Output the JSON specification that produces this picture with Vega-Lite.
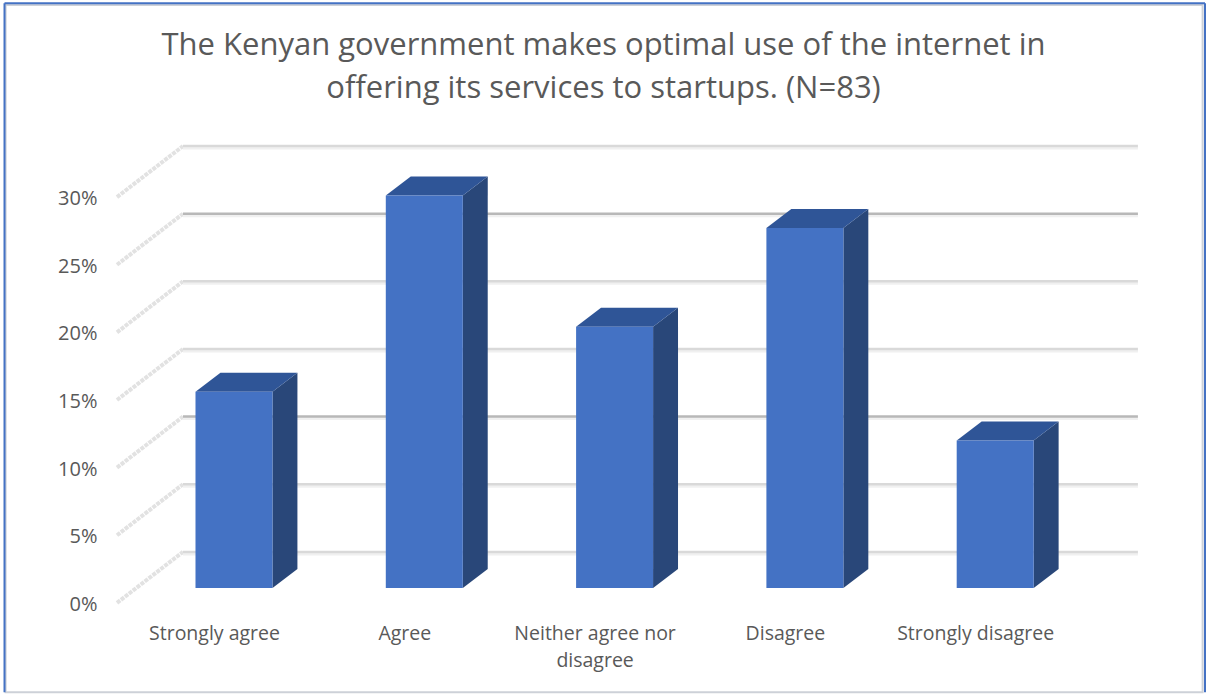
{
  "$schema": "https://vega.github.io/schema/vega-lite/v6.json",
  "width": 1207,
  "height": 695,
  "autosize": "none",
  "padding": 0,
  "background": "white",
  "config": {"view": {"stroke": null}},
  "title": {
    "text": ["The Kenyan government makes optimal use of the internet in", "offering its services to startups. (N=83)"],
    "anchor": "middle",
    "baseline": "middle",
    "offset": -120,
    "lineHeight": 43,
    "font": "Open Sans",
    "fontSize": 31,
    "fontWeight": "normal",
    "color": "#595959"
  },
  "datasets": {
    "answers": [
      {"answer": "Strongly agree", "share": 14.5},
      {"answer": "Agree", "share": 29.0},
      {"answer": "Neither agree nor disagree", "share": 19.3},
      {"answer": "Disagree", "share": 26.6},
      {"answer": "Strongly disagree", "share": 10.9}
    ],
    "ticks": [
      {"tick": 0}, {"tick": 5}, {"tick": 10}, {"tick": 15}, {"tick": 20}, {"tick": 25}, {"tick": 30}
    ],
    "frame": [{"edge": "outer"}]
  },
  "layer": [
    {
      "data": {"name": "frame"},
      "transform": [
        {"calculate": "-1.2", "as": "x0"},
        {"calculate": "5.09", "as": "x1"},
        {"calculate": "44.2", "as": "y1"},
        {"calculate": "-6.6", "as": "y0"}
      ],
      "mark": {"type": "rect", "fill": null, "stroke": "#cdd1d8", "strokeWidth": 2},
      "encoding": {
        "x": {
          "field": "x0",
          "type": "quantitative",
          "scale": {"domain": [-1.2296, 5.113], "nice": false, "zero": false},
          "axis": {
            "values": [0, 1, 2, 3, 4],
            "title": null,
            "grid": false,
            "ticks": false,
            "domain": false,
            "orient": "bottom",
            "offset": -71,
            "labelPadding": 0,
            "labelOffset": -20,
            "labelBaseline": "top",
            "labelLineHeight": 27,
            "labelLimit": 300,
            "labelOverlap": false,
            "labelFlush": false,
            "labelBound": false,
            "labelFont": "Open Sans",
            "labelFontSize": 19.5,
            "labelColor": "#595959",
            "labelExpr": "['Strongly agree', 'Agree', ['Neither agree nor', 'disagree'], 'Disagree', 'Strongly disagree'][datum.value]"
          }
        },
        "x2": {"field": "x1"},
        "y": {
          "field": "y1",
          "type": "quantitative",
          "scale": {"domain": [-6.81, 44.57], "nice": false, "zero": false},
          "axis": {
            "values": [0, 5, 10, 15, 20, 25, 30],
            "title": null,
            "grid": false,
            "ticks": false,
            "domain": false,
            "orient": "left",
            "offset": -97,
            "labelPadding": 0,
            "labelOffset": 1.5,
            "labelFont": "Open Sans",
            "labelFontSize": 20,
            "labelColor": "#595959",
            "labelExpr": "datum.value + '%'"
          }
        },
        "y2": {"field": "y0"}
      }
    },
    {
      "data": {"name": "frame"},
      "transform": [
        {"calculate": "[[-1.2059, -1.2059, 44.33, -6.6], [-1.2059, 5.1025, 44.33, 44.33], [5.1025, 5.1025, 44.33, -6.6]]", "as": "side"},
        {"flatten": ["side"]},
        {"calculate": "datum.side[0]", "as": "x0"},
        {"calculate": "datum.side[1]", "as": "x1"},
        {"calculate": "datum.side[2]", "as": "y1"},
        {"calculate": "datum.side[3]", "as": "y0"}
      ],
      "mark": {"type": "rule", "stroke": "#4472c4", "strokeWidth": 2},
      "encoding": {
        "x": {"field": "x0", "type": "quantitative"},
        "x2": {"field": "x1"},
        "y": {"field": "y1", "type": "quantitative"},
        "y2": {"field": "y0"}
      }
    },
    {
      "data": {"name": "ticks"},
      "transform": [
        {"calculate": "datum.tick + 3.77", "as": "wall"},
        {"calculate": "-0.6148", "as": "xFront"},
        {"calculate": "-0.268", "as": "xBack"}
      ],
      "mark": {"type": "rule", "stroke": "#e2e2e2", "strokeWidth": 4, "strokeDash": [4, 1]},
      "encoding": {
        "x": {"field": "xFront", "type": "quantitative"},
        "x2": {"field": "xBack"},
        "y": {"field": "tick", "type": "quantitative"},
        "y2": {"field": "wall"}
      }
    },
    {
      "data": {"name": "ticks"},
      "transform": [
        {"calculate": "datum.tick + 3.77", "as": "wall"},
        {"calculate": "-0.268", "as": "xBack"},
        {"calculate": "4.75", "as": "xEnd"}
      ],
      "mark": {"type": "rule", "stroke": "#f0f0f0", "strokeWidth": 3, "yOffset": 2},
      "encoding": {
        "x": {"field": "xBack", "type": "quantitative"},
        "x2": {"field": "xEnd"},
        "y": {"field": "wall", "type": "quantitative"}
      }
    },
    {
      "data": {"name": "ticks"},
      "transform": [
        {"calculate": "datum.tick + 3.77", "as": "wall"},
        {"calculate": "-0.268", "as": "xBack"},
        {"calculate": "4.75", "as": "xEnd"}
      ],
      "mark": {"type": "rule", "strokeWidth": 2.5},
      "encoding": {
        "x": {"field": "xBack", "type": "quantitative"},
        "x2": {"field": "xEnd"},
        "y": {"field": "wall", "type": "quantitative"},
        "stroke": {
          "condition": {"test": "datum.tick == 25 || datum.tick == 10", "value": "#b8b8b8"},
          "value": "#d9d9d9"
        }
      }
    },
    {
      "data": {"name": "answers"},
      "transform": [
        {"window": [{"op": "row_number", "as": "rank"}]},
        {"calculate": "datum.rank - 1 + 0.2023", "as": "right"},
        {"calculate": "datum.share + 1.109", "as": "top"},
        {"calculate": "[0, 1]", "as": "depth"},
        {"flatten": ["depth"]},
        {"calculate": "datum.right + datum.depth * 0.131", "as": "xRight"},
        {"calculate": "1.109 + datum.depth * 1.404", "as": "yFloor"},
        {"calculate": "datum.top + datum.depth * 1.404", "as": "yTop"}
      ],
      "mark": {"type": "area", "orient": "vertical", "fill": "#294779"},
      "encoding": {
        "x": {"field": "xRight", "type": "quantitative"},
        "y": {"field": "yFloor", "type": "quantitative"},
        "y2": {"field": "yTop"},
        "detail": {"field": "answer"}
      }
    },
    {
      "data": {"name": "answers"},
      "transform": [
        {"window": [{"op": "row_number", "as": "rank"}]},
        {"calculate": "datum.rank - 1 - 0.2023", "as": "left"},
        {"calculate": "datum.rank - 1 + 0.2023", "as": "right"},
        {"calculate": "datum.share + 1.109", "as": "top"},
        {"calculate": "[0, 1]", "as": "depth"},
        {"flatten": ["depth"]},
        {"calculate": "datum.left + datum.depth * 0.131", "as": "xLeft"},
        {"calculate": "datum.right + datum.depth * 0.131", "as": "xRight"},
        {"calculate": "datum.top + datum.depth * 1.404", "as": "yTop"}
      ],
      "mark": {"type": "area", "orient": "horizontal", "fill": "#2f5597"},
      "encoding": {
        "x": {"field": "xLeft", "type": "quantitative"},
        "x2": {"field": "xRight"},
        "y": {"field": "yTop", "type": "quantitative"},
        "detail": {"field": "answer"}
      }
    },
    {
      "data": {"name": "answers"},
      "transform": [
        {"window": [{"op": "row_number", "as": "rank"}]},
        {"calculate": "datum.rank - 1 - 0.2023", "as": "left"},
        {"calculate": "datum.rank - 1 + 0.2023", "as": "right"},
        {"calculate": "datum.share + 1.109", "as": "top"},
        {"calculate": "1.109", "as": "floor"}
      ],
      "mark": {"type": "rect", "fill": "#4472c4"},
      "encoding": {
        "x": {"field": "left", "type": "quantitative"},
        "x2": {"field": "right"},
        "y": {"field": "floor", "type": "quantitative"},
        "y2": {"field": "top"}
      }
    }
  ]
}
